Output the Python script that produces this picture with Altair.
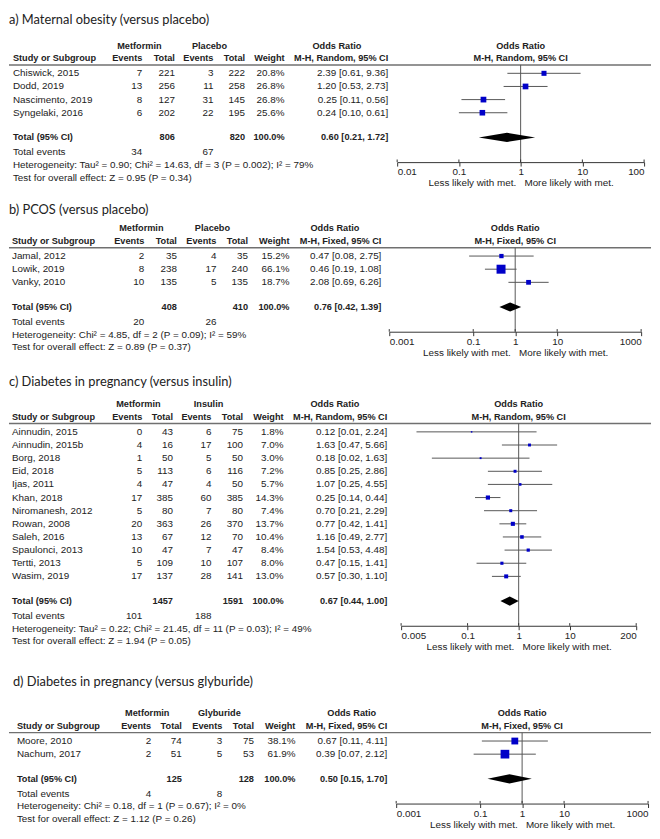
import altair as alt
import pandas as pd

FONT = "Liberation Sans"
TFONT = "Lato"
TXT = "#222222"
BLUE = "#0000c8"
W = 650
PITCH = 13.3

# ---------------- data ----------------
# a) Maternal obesity (versus placebo)
a_studies = ["Chiswick, 2015", "Dodd, 2019", "Nascimento, 2019", "Syngelaki, 2016"]
a_met_events = [7, 13, 8, 6]
a_met_total = [221, 256, 127, 202]
a_ctl_events = [3, 11, 31, 22]
a_ctl_total = [222, 258, 145, 195]
a_weight = [20.8, 26.8, 26.8, 25.6]
a_or = [2.39, 1.20, 0.25, 0.24]
a_lo = [0.61, 0.53, 0.11, 0.10]
a_hi = [9.36, 2.73, 0.56, 0.61]
a_total = [806, 820, 0.60, 0.21, 1.72]
a_events = [34, 67]
a_het = "Heterogeneity: Tau² = 0.90; Chi² = 14.63, df = 3 (P = 0.002); I² = 79%"
a_test = "Test for overall effect: Z = 0.95 (P = 0.34)"
a_ticks = [0.01, 0.1, 1, 10, 100]

# b) PCOS (versus placebo)
b_studies = ["Jamal, 2012", "Lowik, 2019", "Vanky, 2010"]
b_met_events = [2, 8, 10]
b_met_total = [35, 238, 135]
b_ctl_events = [4, 17, 5]
b_ctl_total = [35, 240, 135]
b_weight = [15.2, 66.1, 18.7]
b_or = [0.47, 0.46, 2.08]
b_lo = [0.08, 0.19, 0.69]
b_hi = [2.75, 1.08, 6.26]
b_total = [408, 410, 0.76, 0.42, 1.39]
b_events = [20, 26]
b_het = "Heterogeneity: Chi² = 4.85, df = 2 (P = 0.09); I² = 59%"
b_test = "Test for overall effect: Z = 0.89 (P = 0.37)"
b_ticks = [0.001, 0.1, 1, 10, 1000]

# c) Diabetes in pregnancy (versus insulin)
c_studies = ["Ainnudin, 2015", "Ainnudin, 2015b", "Borg, 2018", "Eid, 2018", "Ijas, 2011",
             "Khan, 2018", "Niromanesh, 2012", "Rowan, 2008", "Saleh, 2016",
             "Spaulonci, 2013", "Tertti, 2013", "Wasim, 2019"]
c_met_events = [0, 4, 1, 5, 4, 17, 5, 20, 13, 10, 5, 17]
c_met_total = [43, 16, 50, 113, 47, 385, 80, 363, 67, 47, 109, 137]
c_ctl_events = [6, 17, 5, 6, 4, 60, 7, 26, 12, 7, 10, 28]
c_ctl_total = [75, 100, 50, 116, 50, 385, 80, 370, 70, 47, 107, 141]
c_weight = [1.8, 7.0, 3.0, 7.2, 5.7, 14.3, 7.4, 13.7, 10.4, 8.4, 8.0, 13.0]
c_or = [0.12, 1.63, 0.18, 0.85, 1.07, 0.25, 0.70, 0.77, 1.16, 1.54, 0.47, 0.57]
c_lo = [0.01, 0.47, 0.02, 0.25, 0.25, 0.14, 0.21, 0.42, 0.49, 0.53, 0.15, 0.30]
c_hi = [2.24, 5.66, 1.63, 2.86, 4.55, 0.44, 2.29, 1.41, 2.77, 4.48, 1.41, 1.10]
c_total = [1457, 1591, 0.67, 0.44, 1.00]
c_events = [101, 188]
c_het = "Heterogeneity: Tau² = 0.22; Chi² = 21.45, df = 11 (P = 0.03); I² = 49%"
c_test = "Test for overall effect: Z = 1.94 (P = 0.05)"
c_ticks = [0.005, 0.1, 1, 10, 200]

# d) Diabetes in pregnancy (versus glyburide)
d_studies = ["Moore, 2010", "Nachum, 2017"]
d_met_events = [2, 2]
d_met_total = [74, 51]
d_ctl_events = [3, 5]
d_ctl_total = [75, 53]
d_weight = [38.1, 61.9]
d_or = [0.67, 0.39]
d_lo = [0.11, 0.07]
d_hi = [4.11, 2.12]
d_total = [125, 128, 0.50, 0.15, 1.70]
d_events = [4, 8]
d_het = "Heterogeneity: Chi² = 0.18, df = 1 (P = 0.67); I² = 0%"
d_test = "Test for overall effect: Z = 1.12 (P = 0.26)"
d_ticks = [0.001, 0.1, 1, 10, 1000]


def fmt_or(o, l, h):
    return f"{o:.2f} [{l:.2f}, {h:.2f}]"


BOLD_SIZE = 9.3


def panel(title, control, method, studies, me, mt, ce, ct, wt, orr, lo, hi,
          tot, ev, het, test, ticks, L):
    n = len(studies)
    r_h1, r_h2, r_line = -2.1, -1.13, -0.64
    r_tot = n - 1 + 1.88
    r_ev = r_tot + 1.13
    r_het = r_tot + 2.1
    r_test = r_tot + 3.08
    r_axis = r_tot + 1.88
    y0 = L["y0"]
    h = y0 + r_axis * PITCH
    ysc = alt.Scale(domain=[-y0 / PITCH, r_axis], range=[0, h], zero=False, nice=False)

    def Y(f):
        return alt.Y(f"{f}:Q", scale=ysc, axis=None)

    c = L["cols"]
    fx0, fx1 = L["fx"]
    fmid = (fx0 + fx1) / 2
    items = []

    def add(row, t, x, align="right", bold=False, font=FONT, size=10):
        if bold and font == FONT:
            size = BOLD_SIZE
        items.append(dict(row=row, t=str(t), x=x, align=align, bold=bold, font=font, size=size))

    add(L["title_row"], title, L["title_x"], "left", False, TFONT, 13)
    add(r_h1, "Metformin", c["g1"], "center", True)
    add(r_h1, control, c["g2"], "center", True)
    add(r_h1, "Odds Ratio", c["gh"], "center", True)
    add(r_h1, "Odds Ratio", fmid, "center", True)
    add(r_h2, "Study or Subgroup", c["s"], "left", True)
    add(r_h2, "Events", c["e1"], "right", True)
    add(r_h2, "Total", c["t1"], "right", True)
    add(r_h2, "Events", c["e2"], "right", True)
    add(r_h2, "Total", c["t2"], "right", True)
    add(r_h2, "Weight", c["w"], "right", True)
    add(r_h2, method, c["o"], "right", True)
    add(r_h2, method, fmid, "center", True)
    for i in range(n):
        add(i, studies[i], c["s"], "left")
        add(i, me[i], c["e1"])
        add(i, mt[i], c["t1"])
        add(i, ce[i], c["e2"])
        add(i, ct[i], c["t2"])
        add(i, f"{wt[i]:.1f}%", c["w"])
        add(i, fmt_or(orr[i], lo[i], hi[i]), c["o"])
    add(r_tot, "Total (95% CI)", c["s"], "left", True)
    add(r_tot, tot[0], c["t1"], "right", True)
    add(r_tot, tot[1], c["t2"], "right", True)
    add(r_tot, "100.0%", c["w"], "right", True)
    add(r_tot, fmt_or(tot[2], tot[3], tot[4]), c["o"], "right", True)
    add(r_ev, "Total events", c["s"], "left")
    add(r_ev, ev[0], c["e1"])
    add(r_ev, ev[1], c["e2"])
    add(r_het, het, c["s"], "left")
    add(r_test, test, c["s"], "left")

    df = pd.DataFrame(items)
    layers = []
    for (x, align, bold, font, size), g in df.groupby(["x", "align", "bold", "font", "size"]):
        layers.append(
            alt.Chart(g[["row", "t"]]).mark_text(
                align=align, baseline="middle", font=font, fontSize=size,
                fontWeight="bold" if bold else "normal", color=TXT
            ).encode(x=alt.value(float(x)), y=Y("row"), text=alt.Text("t:N"))
        )

    # header separator line
    layers.append(
        alt.Chart(pd.DataFrame({"r": [r_line]})).mark_rule(color="#707070", strokeWidth=1.5)
        .encode(x=alt.value(0), x2=alt.value(W), y=Y("r"))
    )

    xsc = alt.Scale(type="log", domain=[ticks[0], ticks[-1]], range=[fx0, fx1])
    xax = alt.Axis(values=ticks, labelExpr="datum.value + ''", grid=False,
                   labelFont=FONT, labelFontSize=10, labelColor=TXT, labelFlush=True,
                   labelOverlap=False, labelPadding=1, tickSize=4, tickColor="#333",
                   domainColor="#333", titleFont=FONT, titleFontSize=10,
                   titleFontWeight="normal", titleColor=TXT, titlePadding=1)
    xtitle = "Less likely with met.\u00a0\u00a0\u00a0More likely with met."

    def X(f):
        return alt.X(f"{f}:Q", scale=xsc, axis=xax, title=xtitle)

    # null line
    layers.append(
        alt.Chart(pd.DataFrame({"x": [1], "r1": [r_line], "r2": [r_axis]}))
        .mark_rule(color="#555555", strokeWidth=1)
        .encode(x=X("x"), y=Y("r1"), y2="r2:Q")
    )
    # upward half of axis ticks (reference ticks cross the axis line)
    tdf = pd.DataFrame({"x": ticks, "r1": [r_axis] * len(ticks), "r2": [r_axis - 0.2] * len(ticks)})
    layers.append(
        alt.Chart(tdf).mark_rule(color="#333", strokeWidth=1)
        .encode(x=X("x"), y=Y("r1"), y2="r2:Q")
    )
    sdf = pd.DataFrame({"row": list(range(n)), "or": orr, "lo": lo, "hi": hi, "w": wt})
    layers.append(
        alt.Chart(sdf).mark_rule(color="#555555", strokeWidth=1)
        .encode(x=X("lo"), x2="hi:Q", y=Y("row"))
    )
    layers.append(
        alt.Chart(sdf).mark_point(shape="square", filled=True, color=BLUE, opacity=1, strokeWidth=0)
        .encode(x=X("or"), y=Y("row"),
                size=alt.Size("w:Q", scale=alt.Scale(domain=[0, 100], range=[0, 125]), legend=None))
    )
    hh = 0.35
    ddf = pd.DataFrame({"x": [tot[3], tot[2], tot[4]],
                        "y1": [r_tot, r_tot - hh, r_tot],
                        "y2": [r_tot, r_tot + hh, r_tot]})
    layers.append(
        alt.Chart(ddf).mark_area(color="black", orient="vertical", opacity=1)
        .encode(x=X("x"), y=Y("y1"), y2="y2:Q")
    )
    return alt.layer(*layers).properties(width=W, height=h)


LA = dict(y0=61, title_row=-4.06, title_x=0,
          cols=dict(s=4, e1=135, t1=168, e2=207, t2=239, w=279, o=384, g1=132, g2=203, gh=332),
          fx=(393, 643))
LB = dict(y0=95, title_row=-3.53, title_x=0,
          cols=dict(s=3, e1=137, t1=170, e2=210, t2=242, w=284, o=377, g1=134, g2=206, gh=330),
          fx=(385, 640))
LC = dict(y0=101, title_row=-3.83, title_x=0,
          cols=dict(s=3, e1=135, t1=166, e2=205, t2=237, w=278, o=383, g1=131, g2=202, gh=330),
          fx=(397, 635))
LD = dict(y0=116, title_row=-4.51, title_x=4,
          cols=dict(s=8, e1=144, t1=175, e2=216, t2=248, w=290, o=383, g1=140, g2=213, gh=347),
          fx=(392, 647))

pa = panel("a) Maternal obesity (versus placebo)", "Placebo", "M-H, Random, 95% CI",
           a_studies, a_met_events, a_met_total, a_ctl_events, a_ctl_total, a_weight,
           a_or, a_lo, a_hi, a_total, a_events, a_het, a_test, a_ticks, LA)
pb = panel("b) PCOS (versus placebo)", "Placebo", "M-H, Fixed, 95% CI",
           b_studies, b_met_events, b_met_total, b_ctl_events, b_ctl_total, b_weight,
           b_or, b_lo, b_hi, b_total, b_events, b_het, b_test, b_ticks, LB)
pc = panel("c) Diabetes in pregnancy (versus insulin)", "Insulin", "M-H, Random, 95% CI",
           c_studies, c_met_events, c_met_total, c_ctl_events, c_ctl_total, c_weight,
           c_or, c_lo, c_hi, c_total, c_events, c_het, c_test, c_ticks, LC)
pd_ = panel("d) Diabetes in pregnancy (versus glyburide)", "Glyburide", "M-H, Fixed, 95% CI",
            d_studies, d_met_events, d_met_total, d_ctl_events, d_ctl_total, d_weight,
            d_or, d_lo, d_hi, d_total, d_events, d_het, d_test, d_ticks, LD)

chart = alt.vconcat(pa, pb, pc, pd_, spacing=0, bounds="flush", padding=0).configure_view(stroke=None)
chart.save("out.html", embed_options={"renderer": "svg", "actions": False})
